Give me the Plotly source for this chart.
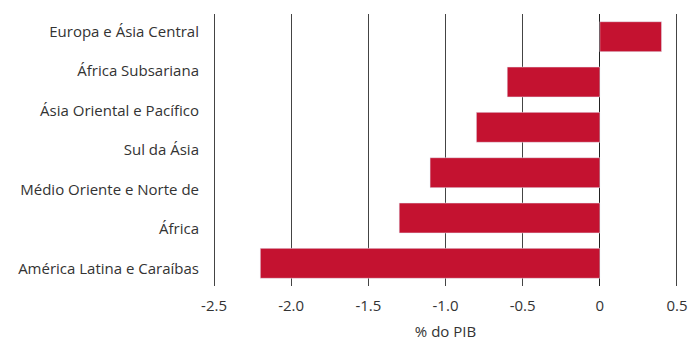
import plotly.graph_objects as go

regions = ["Europa e Ásia Central", "África Subsariana", "Ásia Oriental e Pacífico",
           "Sul da Ásia", "Médio Oriente e Norte de África", "América Latina e Caraíbas"]
values = [0.4, -0.6, -0.8, -1.1, -1.3, -2.2]
label_lines = ["Europa e Ásia Central", "África Subsariana", "Ásia Oriental e Pacífico",
               "Sul da Ásia", "Médio Oriente e Norte de", "África", "América Latina e Caraíbas"]
x_ticks = [-2.5, -2.0, -1.5, -1.0, -0.5, 0, 0.5]
x_ticktext = ["-2.5", "-2.0", "-1.5", "-1.0", "-0.5", "0", "0.5"]

font = dict(family="Open Sans, sans-serif", size=15, color="#333333")

fig = go.Figure()
fig.add_trace(go.Bar(y=regions, x=values, orientation="h", marker_color="#C41230",
                     width=0.66, hoverinfo="x+y"))
fig.add_trace(go.Scatter(y=label_lines, x=[None] * len(label_lines), yaxis="y2",
                         mode="markers", showlegend=False, hoverinfo="skip"))

fig.update_layout(
    width=689, height=341,
    margin=dict(l=212, r=10, t=14, b=55),
    paper_bgcolor="white", plot_bgcolor="white",
    font=font, showlegend=False,
    xaxis=dict(range=[-2.513, 0.513], tickvals=x_ticks, ticktext=x_ticktext,
               showgrid=True, gridcolor="#444444", gridwidth=1,
               zeroline=True, zerolinecolor="#222222", zerolinewidth=1,
               ticks="", showline=False, ticklabelstandoff=9, automargin=False,
               title=dict(text="% do PIB", font=font, standoff=18)),
    yaxis=dict(categoryorder="array", categoryarray=regions, autorange="reversed",
               showticklabels=False, showgrid=False, ticks="", automargin=False),
    yaxis2=dict(overlaying="y", side="left", categoryorder="array",
                categoryarray=label_lines, autorange="reversed", automargin=False,
                showgrid=False, ticks="", showline=False, zeroline=False,
                ticklabelstandoff=12),
)

fig.write_html("out.html")
